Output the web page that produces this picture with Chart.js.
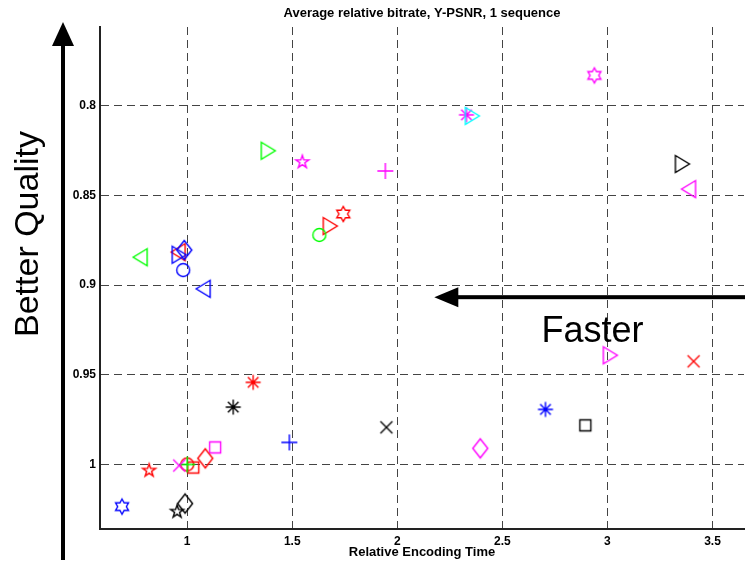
<!DOCTYPE html>
<html>
<head>
<meta charset="utf-8">
<script src="https://cdn.jsdelivr.net/npm/chart.js@4.4.0/dist/chart.umd.min.js"></script>
<style>
  html, body { margin: 0; padding: 0; background: #fff; }
</style>
</head>
<body>
<canvas id="rdChart" width="745" height="565"></canvas>
<script>
// relative encoding time (x) and average relative bitrate (y), one entry per encoder setting
const encTime = [2.938, 2.329, 2.357, 3.357, 3.386, 1.943, 1.548, 1.386, 1.743, 1.681, 1.629, 0.776,
                 0.957, 0.962, 0.986, 0.981, 1.076, 1.314, 1.219, 1.486, 1.948, 1.133, 1.086, 1.029,
                 1.0, 1.0, 0.962, 0.819, 0.69, 0.99, 0.952, 3.014, 3.41, 2.705, 2.895, 2.395];
const relBitrate = [0.783, 0.805, 0.8056, 0.8324, 0.8464, 0.8363, 0.8313, 0.825, 0.8603, 0.867, 0.872, 0.8844,
                    0.8816, 0.883, 0.8804, 0.8916, 0.902, 0.9542, 0.968, 0.9877, 0.9793, 0.9905, 0.9966, 1.0017,
                    1.0, 1.0, 1.0006, 1.0034, 1.0235, 1.0218, 1.0263, 0.9391, 0.9425, 0.9693, 0.9782, 0.991];
// matlab style codes: colour letter + marker letter
const pointCode = ['mh', 'm*', 'c>', 'k>', 'm<', 'm+', 'mp', 'g>', 'rh', 'r>', 'go', 'g<',
                   'r<', 'b>', 'bd', 'bo', 'b<', 'r*', 'k*', 'b+', 'kx', 'ms', 'rd', 'rs',
                   'ro', 'g+', 'mx', 'rp', 'bh', 'kd', 'kp', 'm>', 'rx', 'b*', 'ks', 'md'];

const xTickVals = [1, 1.5, 2, 2.5, 3, 3.5];
const yTickVals = [0.8, 0.85, 0.9, 0.95, 1];

const titleText = 'Average relative bitrate, Y-PSNR, 1 sequence';
const xLabel = 'Relative Encoding Time';
const yNote = 'Better Quality';
const xNote = 'Faster';

const colorMap = { r: '#ff0000', g: '#00ff00', b: '#0000ff', c: '#00ffff', m: '#ff00ff', k: '#000000' };
const FONT = '"Liberation Sans", Arial, Helvetica, sans-serif';

function starPath(c, m, n, rOut, rIn) {
  for (let i = 0; i < 2 * n; i++) {
    const r = i % 2 ? rIn : rOut;
    const a = -Math.PI / 2 + i * Math.PI / n;
    const px = m + r * Math.cos(a), py = m + r * Math.sin(a);
    if (i === 0) c.moveTo(px, py); else c.lineTo(px, py);
  }
  c.closePath();
}

// small canvas used as the chart.js pointStyle
function makeMarker(shape, color) {
  const s = 24, m = s / 2;
  const cv = document.createElement('canvas');
  cv.width = s; cv.height = s;
  const c = cv.getContext('2d');
  c.strokeStyle = color;
  c.lineWidth = 1.4;
  c.beginPath();
  switch (shape) {
    case 'o': c.arc(m, m, 6.5, 0, Math.PI * 2); break;
    case 's': c.rect(m - 5.5, m - 5.5, 11, 11); break;
    case 'd':
      c.moveTo(m, m - 9.5); c.lineTo(m + 7.5, m); c.lineTo(m, m + 9.5); c.lineTo(m - 7.5, m); c.closePath();
      break;
    case '>':
      c.moveTo(m - 7, m - 8.5); c.lineTo(m + 7, m); c.lineTo(m - 7, m + 8.5); c.closePath();
      break;
    case '<':
      c.moveTo(m + 7, m - 8.5); c.lineTo(m - 7, m); c.lineTo(m + 7, m + 8.5); c.closePath();
      break;
    case '+':
      c.moveTo(m - 8, m); c.lineTo(m + 8, m); c.moveTo(m, m - 8); c.lineTo(m, m + 8);
      break;
    case 'x':
      c.moveTo(m - 6, m - 6); c.lineTo(m + 6, m + 6); c.moveTo(m + 6, m - 6); c.lineTo(m - 6, m + 6);
      break;
    case '*':
      c.moveTo(m - 7.5, m); c.lineTo(m + 7.5, m); c.moveTo(m, m - 7.5); c.lineTo(m, m + 7.5);
      c.moveTo(m - 5.3, m - 5.3); c.lineTo(m + 5.3, m + 5.3); c.moveTo(m + 5.3, m - 5.3); c.lineTo(m - 5.3, m + 5.3);
      break;
    case 'p': starPath(c, m, 5, 6.8, 2.6); break;
    case 'h': starPath(c, m, 6, 7.5, 4.33); break;
  }
  c.stroke();
  return cv;
}

const points = encTime.map((x, i) => ({ x: x, y: relBitrate[i] }));
const pointImgs = pointCode.map(code => makeMarker(code[1], colorMap[code[0]]));

// decorations: title, axis label, the two big arrows and their words
const annotations = {
  id: 'annotations',
  afterDraw(chart) {
    const { ctx, chartArea, scales } = chart;
    const cx = (chartArea.left + chartArea.right) / 2;
    ctx.save();
    ctx.fillStyle = '#000';
    ctx.textAlign = 'center';
    ctx.textBaseline = 'middle';
    ctx.font = 'bold 13px ' + FONT;
    ctx.fillText(titleText, cx, 13);
    ctx.fillText(xLabel, cx, 552);

    // vertical arrow on the left
    ctx.fillRect(61, 44, 4, 516);
    ctx.beginPath();
    ctx.moveTo(63, 22); ctx.lineTo(74, 46); ctx.lineTo(52, 46);
    ctx.closePath(); ctx.fill();

    ctx.save();
    ctx.translate(38, 234);
    ctx.rotate(-Math.PI / 2);
    ctx.textBaseline = 'alphabetic';
    ctx.font = '34px ' + FONT;
    ctx.fillText(yNote, 0, 0);
    ctx.restore();

    // horizontal arrow pointing left
    const tipX = scales.x.getPixelForValue(2.176);
    const ay = scales.y.getPixelForValue(0.9067);
    ctx.fillRect(tipX + 22, ay - 2, chart.width - tipX - 22, 4);
    ctx.beginPath();
    ctx.moveTo(tipX, ay); ctx.lineTo(tipX + 24, ay - 10); ctx.lineTo(tipX + 24, ay + 10);
    ctx.closePath(); ctx.fill();

    ctx.textBaseline = 'alphabetic';
    ctx.font = '36px ' + FONT;
    ctx.fillText(xNote, scales.x.getPixelForValue(2.929), scales.y.getPixelForValue(0.9318));
    ctx.restore();
  }
};

const tickFont = { family: FONT, size: 12, weight: 'bold' };

new Chart(document.getElementById('rdChart'), {
  type: 'scatter',
  data: {
    datasets: [{
      data: points,
      pointStyle: pointImgs,
      pointRadius: 7,
      pointHoverRadius: 7,
      showLine: false
    }]
  },
  options: {
    responsive: false,
    animation: false,
    events: [],
    layout: { autoPadding: false, padding: { top: 27, right: 1, left: 0, bottom: 0 } },
    plugins: {
      legend: { display: false },
      tooltip: { enabled: false }
    },
    scales: {
      x: {
        type: 'linear',
        min: 0.585,
        max: 3.65,
        afterBuildTicks: axis => { axis.ticks = xTickVals.map(v => ({ value: v })); },
        afterFit: axis => { axis.height = 36; axis.paddingLeft = 0; axis.paddingRight = 0; },
        ticks: {
          font: tickFont,
          color: '#000',
          padding: 5,
          maxRotation: 0,
          callback: v => String(v)
        },
        grid: { color: '#444', lineWidth: 1, drawTicks: false },
        border: { display: true, color: '#222', width: 2, dash: [8, 5] }
      },
      y: {
        type: 'linear',
        reverse: true,
        min: 0.756,
        max: 1.036,
        afterBuildTicks: axis => { axis.ticks = yTickVals.map(v => ({ value: v })); },
        afterFit: axis => { axis.width = 100; axis.paddingTop = 0; axis.paddingBottom = 0; },
        ticks: {
          font: tickFont,
          color: '#000',
          padding: 4,
          callback: v => String(v)
        },
        grid: { color: '#444', lineWidth: 1, drawTicks: false },
        border: { display: true, color: '#222', width: 2, dash: [8, 5] }
      }
    }
  },
  plugins: [annotations]
});
</script>
</body>
</html>
